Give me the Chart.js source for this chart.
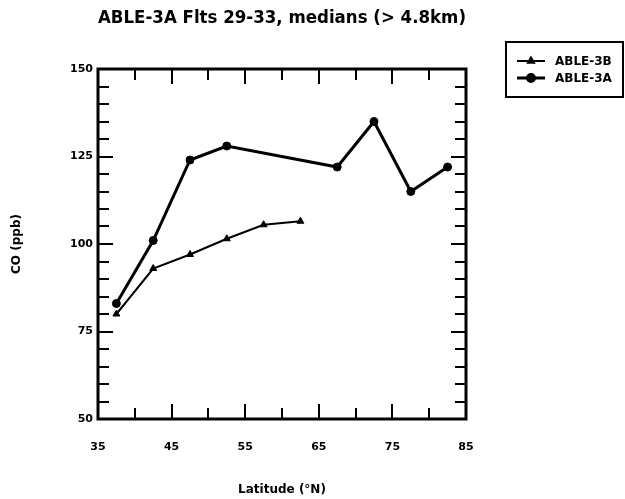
<!DOCTYPE html>
<html>
<head>
<meta charset="utf-8">
<script src="https://cdn.jsdelivr.net/npm/chart.js@4/dist/chart.umd.min.js"></script>
<style>
  html, body { margin: 0; padding: 0; background: #fff; }
  #wrap { width: 625px; height: 499px; }
</style>
</head>
<body>
<div id="wrap"><canvas id="c" width="625" height="499"></canvas></div>
<script>
// Median CO above 4.8 km, binned by latitude
const latitudeA = [37.5, 42.5, 47.5, 52.5, 67.5, 72.5, 77.5, 82.5];
const coA = [83, 101, 124, 128, 122, 135, 115, 122];
const latitudeB = [37.5, 42.5, 47.5, 52.5, 57.5, 62.5];
const coB = [80, 93, 97, 101.5, 105.5, 106.5];

// Axis tick labels
const xTickValues = [35, 45, 55, 65, 75, 85];
const yTickValues = [50, 75, 100, 125, 150];

const FONT = "'DejaVu Sans', sans-serif";

const toPoints = (xs, ys) => xs.map((x, i) => ({ x: x, y: ys[i] }));

// Closed frame with inward major/minor ticks on all four sides
const framePlugin = {
  id: 'frame',
  afterDatasetsDraw(chart) {
    const { ctx, chartArea: a, scales } = chart;
    const xs = scales.x, ys = scales.y;
    ctx.save();
    ctx.strokeStyle = '#000';
    ctx.lineCap = 'butt';
    ctx.lineWidth = 2;
    const major = 15, minor = 11;
    // x ticks every 5 degrees, longer at the labelled ones
    for (let v = xs.min; v <= xs.max + 1e-9; v += 5) {
      const px = Math.round(xs.getPixelForValue(v));
      const len = xTickValues.includes(v) ? major : minor;
      ctx.beginPath();
      ctx.moveTo(px, a.bottom); ctx.lineTo(px, a.bottom - len);
      ctx.moveTo(px, a.top); ctx.lineTo(px, a.top + len);
      ctx.stroke();
    }
    // y ticks every 5 ppb, longer at the labelled ones
    for (let v = ys.min; v <= ys.max + 1e-9; v += 5) {
      const py = Math.round(ys.getPixelForValue(v));
      const len = yTickValues.includes(v) ? major : minor;
      ctx.beginPath();
      ctx.moveTo(a.left, py); ctx.lineTo(a.left + len, py);
      ctx.moveTo(a.right, py); ctx.lineTo(a.right - len, py);
      ctx.stroke();
    }
    ctx.lineWidth = 3;
    ctx.strokeRect(a.left, a.top, a.right - a.left, a.bottom - a.top);
    ctx.restore();
  }
};

// Boxed legend in the upper right corner, styled from the datasets
const boxLegendPlugin = {
  id: 'boxLegend',
  afterDraw(chart) {
    const { ctx } = chart;
    const box = { left: 506, top: 42, right: 623, bottom: 97 };
    ctx.save();
    ctx.strokeStyle = '#000';
    ctx.lineWidth = 2;
    ctx.strokeRect(box.left, box.top, box.right - box.left, box.bottom - box.top);
    const order = [1, 0];
    order.forEach((di, row) => {
      const ds = chart.data.datasets[di];
      const y = 61 + row * 17;
      const x0 = 517, x1 = 545, xm = (x0 + x1) / 2;
      ctx.strokeStyle = ds.borderColor;
      ctx.lineWidth = ds.borderWidth;
      ctx.beginPath();
      ctx.moveTo(x0, y); ctx.lineTo(x1, y);
      ctx.stroke();
      ctx.fillStyle = ds.pointBackgroundColor;
      Chart.helpers.drawPoint(ctx, {
        pointStyle: ds.pointStyle,
        radius: ds.pointRadius - 0.5,
        rotation: 0,
        borderWidth: 1
      }, xm, y);
      ctx.fillStyle = '#000';
      ctx.font = 'bold 12px ' + FONT;
      ctx.textAlign = 'left';
      ctx.textBaseline = 'middle';
      ctx.fillText(ds.label, 555, y + 1);
    });
    ctx.restore();
  }
};

new Chart(document.getElementById('c'), {
  type: 'line',
  data: {
    datasets: [
      {
        label: 'ABLE-3A',
        data: toPoints(latitudeA, coA),
        borderColor: '#000',
        backgroundColor: '#000',
        pointBackgroundColor: '#000',
        pointBorderColor: '#000',
        borderWidth: 3,
        pointStyle: 'circle',
        pointRadius: 4,
        pointBorderWidth: 1,
        tension: 0,
        fill: false
      },
      {
        label: 'ABLE-3B',
        data: toPoints(latitudeB, coB),
        borderColor: '#000',
        backgroundColor: '#000',
        pointBackgroundColor: '#000',
        pointBorderColor: '#000',
        borderWidth: 2,
        pointStyle: 'triangle',
        pointRadius: 4,
        pointBorderWidth: 1,
        tension: 0,
        fill: false
      }
    ]
  },
  options: {
    responsive: false,
    animation: false,
    events: [],
    layout: { padding: { left: 0, right: 159, top: 0, bottom: 0 } },
    plugins: {
      legend: { display: false },
      tooltip: { enabled: false },
      title: {
        display: true,
        fullSize: false,
        text: 'ABLE-3A Flts 29-33, medians (> 4.8km)',
        color: '#000',
        font: { family: FONT, size: 18, weight: 'bold' },
        padding: { top: 8, bottom: 39.4 }
      }
    },
    scales: {
      x: {
        type: 'linear',
        min: 35,
        max: 85,
        afterFit(scale) { scale.height = 80; },
        afterBuildTicks(scale) { scale.ticks = xTickValues.map(v => ({ value: v })); },
        grid: { display: false, drawTicks: false },
        border: { display: false },
        ticks: {
          color: '#000',
          padding: 22,
          maxRotation: 0,
          autoSkip: false,
          font: { family: FONT, size: 11, weight: 'bold' }
        },
        title: {
          display: true,
          text: 'Latitude (°N)',
          color: '#000',
          font: { family: FONT, size: 12, weight: 'bold' },
          padding: { top: 0, bottom: 2 }
        }
      },
      y: {
        type: 'linear',
        min: 50,
        max: 150,
        afterFit(scale) { scale.width = 98; },
        afterBuildTicks(scale) { scale.ticks = yTickValues.map(v => ({ value: v })); },
        grid: { display: false, drawTicks: false },
        border: { display: false },
        ticks: {
          color: '#000',
          padding: 5,
          autoSkip: false,
          font: { family: FONT, size: 11, weight: 'bold' }
        },
        title: {
          display: true,
          text: 'CO (ppb)',
          color: '#000',
          font: { family: FONT, size: 12, weight: 'bold' },
          padding: { top: 10, bottom: 0 }
        }
      }
    }
  },
  plugins: [framePlugin, boxLegendPlugin]
});
</script>
</body>
</html>
